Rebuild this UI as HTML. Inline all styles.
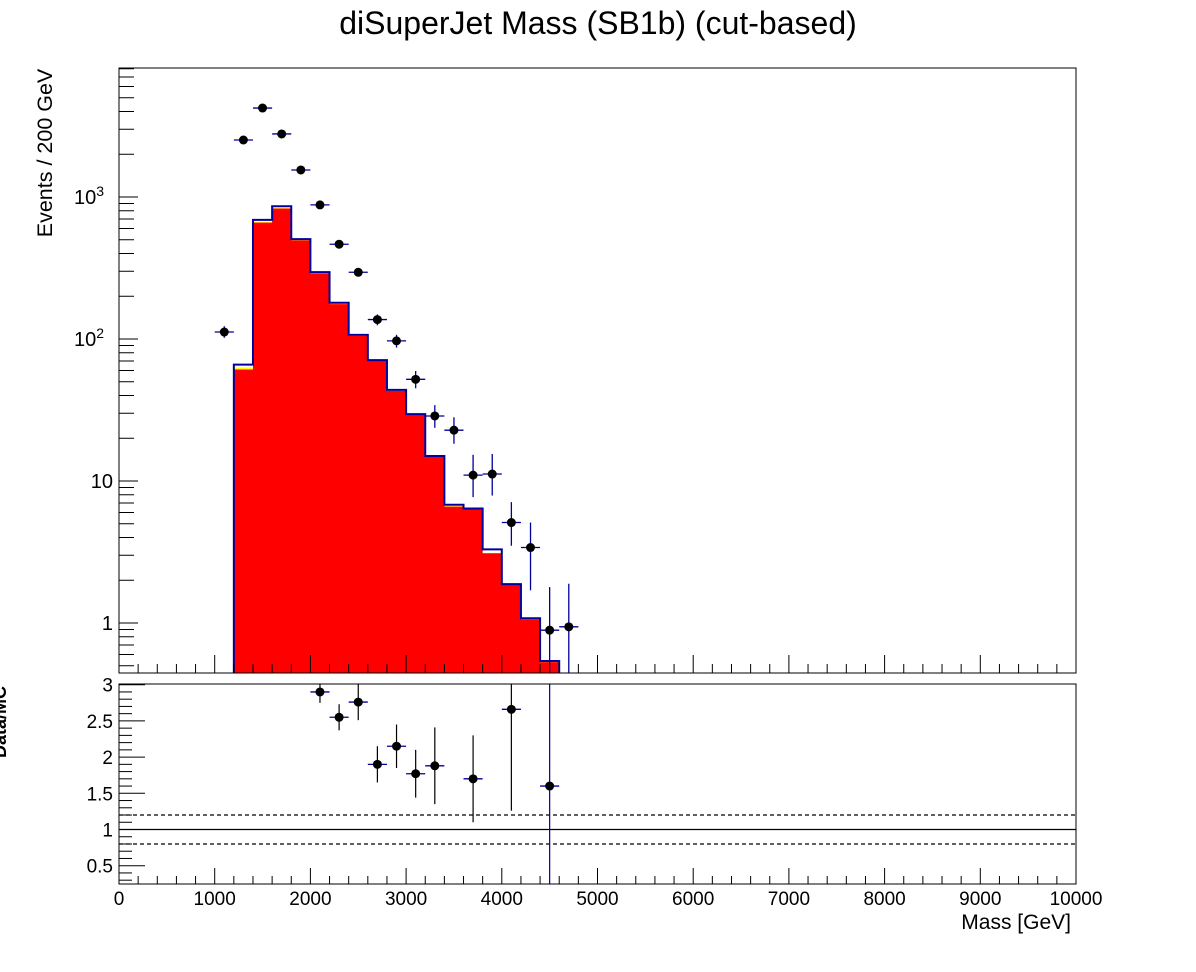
<!DOCTYPE html>
<html><head><meta charset="utf-8"><style>
html,body{margin:0;background:#fff;overflow:hidden;width:1196px;height:972px;}
svg{display:block;font-family:"Liberation Sans",Arial,sans-serif;overflow:hidden;}
</style></head><body>
<svg id="c" width="1196" height="972" viewBox="0 0 1196 972" xmlns="http://www.w3.org/2000/svg">
<rect width="1196" height="972" fill="#fff"/>
<text x="598" y="34" font-size="32" text-anchor="middle">diSuperJet Mass (SB1b) (cut-based)</text>
<g id="g"></g>
</svg>
<script>
const binEdgesStart = 1200;
const binWidth = 200;
const mcRed = [61, 660, 830, 495, 290, 176, 105, 70, 43, 29.2, 14.8, 6.6, 6.3, 3.1, 1.85, 1.06, 0.53];
const mcYellow = [2, 8, 5, 3, 1, 1, 0.5, 0.3, 0.2, 0.1, 0.05, 0.05, 0.05, 0.02, 0.01, 0.01, 0.005];
const mcTotal = [66, 690, 860, 505, 296, 180, 107, 71, 43.8, 29.6, 15, 6.8, 6.4, 3.3, 1.88, 1.08, 0.54];
const dataX = [1100,1300,1500,1700,1900,2100,2300,2500,2700,2900,3100,3300,3500,3700,3900,4100,4300,4500,4700];
const dataY = [112,2520,4230,2780,1550,880,465,295,137,97,52,28.7,22.8,11,11.2,5.1,3.4,0.89,0.94];
const dataErrUp = [11,50,65,53,40,30,22,17,12,10,7.5,5.5,5.3,4.3,4.3,2.0,1.7,0.9,0.95];
const dataErrDn = [10,50,65,53,40,30,22,17,12,10,7,5,4.5,3.3,3.3,1.6,1.7,0.89,0.94];
const ratioX = [2100,2300,2500,2700,2900,3100,3300,3700,4100,4500];
const ratioY = [2.9,2.55,2.76,1.9,2.15,1.77,1.88,1.7,2.66,1.6];
const ratioErrUp = [0.15,0.18,0.25,0.25,0.3,0.33,0.53,0.6,1.4,5];
const ratioErrDn = [0.15,0.18,0.25,0.25,0.3,0.33,0.53,0.6,1.4,5];
const xTicks = [0,1000,2000,3000,4000,5000,6000,7000,8000,9000,10000];
const ratioTicks = [0.5,1,1.5,2,2.5,3];
const ratioTickLabels = ["0.5","1","1.5","2","2.5","3"];

const NS="http://www.w3.org/2000/svg";
const g=document.getElementById('g');
const L=119,R=1076,T1=68,B1=673,T2=684,B2=884;
const x=v=>L+(v/10000)*(R-L);
const ylog=v=>623-142*Math.log10(v);
const yr=v=>829.5-72.4*(v-1);
const cl=(v,a,b)=>Math.max(a,Math.min(b,v));
function el(tag,a,parent){const e=document.createElementNS(NS,tag);for(const k in a)e.setAttribute(k,a[k]);(parent||g).appendChild(e);return e;}
const clip1=el('clipPath',{id:'cp1'});el('rect',{x:L,y:T1,width:R-L,height:B1-T1},clip1);
const clip2=el('clipPath',{id:'cp2'});el('rect',{x:L,y:T2,width:R-L,height:B2-T2},clip2);
const p1=el('g',{'clip-path':'url(#cp1)'});


const p2=el('g',{'clip-path':'url(#cp2)'});



function stepPath(vals){
  let d='M'+x(binEdgesStart)+','+B1;
  vals.forEach((v,i)=>{const x0=x(binEdgesStart+i*binWidth),x1=x(binEdgesStart+(i+1)*binWidth);const yy=Math.min(ylog(v),B1);d+=' L'+x0+','+yy+' L'+x1+','+yy;});
  d+=' L'+x(binEdgesStart+vals.length*binWidth)+','+B1;
  return d;
}
const stackYel=mcRed.map((v,i)=>v+mcYellow[i]);
const hy=el('path',{d:stepPath(stackYel),fill:'#ffff00',stroke:'none'},p1);


const hr=el('path',{d:stepPath(mcRed),fill:'#ff0000',stroke:'none'},p1);


const ht=el('path',{d:stepPath(mcTotal),fill:'none',stroke:'#00009a','stroke-width':2},p1);



dataX.forEach((v,i)=>{
  const cx=x(v),cy=ylog(dataY[i]);
  const grp=el('g',{},p1);
  
  
  el('line',{x1:x(v-100),x2:x(v+100),y1:cy,y2:cy,stroke:'#00009a','stroke-width':1.3},grp);
  const lo=dataY[i]-dataErrDn[i];
  el('line',{x1:cx,x2:cx,y1:cl(ylog(dataY[i]+dataErrUp[i]),T1,B1),y2:lo>0?cl(ylog(lo),T1,B1):B1,stroke:'#00009a','stroke-width':1.3},grp);
  el('circle',{cx:cx,cy:cy,r:4.5,fill:'#000'},grp);
});

[[1.2,'4 3'],[0.8,'4 3'],[1,null]].forEach(([v,da])=>{
  const l=el('line',{x1:L,x2:R,y1:yr(v),y2:yr(v),stroke:'#000','stroke-width':1.2},p2);
  if(da)l.setAttribute('stroke-dasharray',da);
  
  
});
ratioX.forEach((v,i)=>{
  const cx=x(v),cy=yr(ratioY[i]);
  const grp=el('g',{},p2);
  
  
  const col=ratioErrUp[i]>3?'#00009a':'#000';
  el('line',{x1:cx,x2:cx,y1:cl(yr(ratioY[i]+ratioErrUp[i]),T2,B2),y2:cl(yr(ratioY[i]-ratioErrDn[i]),T2,B2),stroke:col,'stroke-width':1.2},grp);
  el('line',{x1:x(v-100),x2:x(v+100),y1:cy,y2:cy,stroke:'#00009a','stroke-width':1.3},grp);
  el('circle',{cx:cx,cy:cy,r:4.5,fill:'#000'},grp);
});

[[T1,B1,'main-frame'],[T2,B2,'ratio-frame']].forEach(([t,b,n])=>{
  const r=el('rect',{x:L,y:t,width:R-L,height:b-t,fill:'none',stroke:'#000','stroke-width':1});
  
  
});
for(let v=0;v<=10000;v+=200){
  const major=v%1000===0;
  el('line',{x1:x(v),x2:x(v),y1:B1,y2:B1-(major?18:9),stroke:'#000'});
  el('line',{x1:x(v),x2:x(v),y1:B2,y2:B2-(major?16:8),stroke:'#000'});
}
xTicks.forEach(v=>{
  const t=el('text',{x:x(v),y:905,'font-size':19,'text-anchor':'middle'});t.textContent=v;
  
  
});
for(let e=-1;e<=3;e++){for(let m=1;m<=9;m++){const v=m*Math.pow(10,e);const yy=ylog(v);if(yy<T1||yy>B1)continue;
  el('line',{x1:L,x2:L+(m===1?19:15),y1:yy,y2:yy,stroke:'#000'});}}
const ylab=[[1,'1'],[10,'10'],[100,'10','2'],[1000,'10','3']];
ylab.forEach(([v,b,s])=>{
  const t=el('text',{x:s?104:113,y:ylog(v)+7,'font-size':20,'text-anchor':'end'});
  t.textContent=b;
  if(s){const ts=el('tspan',{dy:-8,'font-size':14},t);ts.textContent=s;}
  
  
});
for(let k=3;k<=30;k++){const v=k/10;const yy=yr(v);if(yy<T2||yy>B2)continue;
  el('line',{x1:L,x2:L+(k%5===0?26:13),y1:yy,y2:yy,stroke:'#000'});}
ratioTicks.forEach((v,i)=>{
  const t=el('text',{x:113,y:yr(v)+7,'font-size':19,'text-anchor':'end'});t.textContent=ratioTickLabels[i];
  
  
});
let t=el('text',{x:0,y:0,'font-size':21.5,'text-anchor':'middle',transform:'translate(52,153) rotate(-90)'});t.textContent='Events / 200 GeV';


t=el('text',{x:0,y:0,'font-size':18,'font-weight':'bold','text-anchor':'middle',transform:'translate(6,722) rotate(-90)'});t.textContent='Data/MC';


t=el('text',{x:1071,y:929,'font-size':21,'text-anchor':'end'});t.textContent='Mass [GeV]';


</script>
</body></html>
